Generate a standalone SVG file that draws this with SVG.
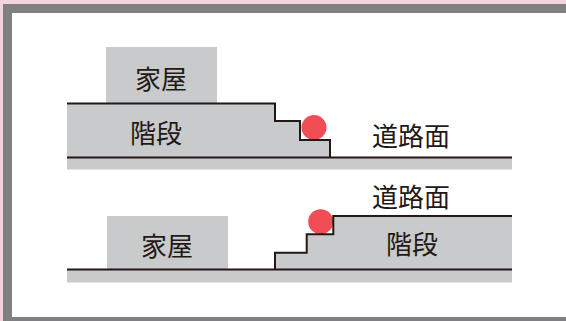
<svg xmlns="http://www.w3.org/2000/svg" width="566" height="321" viewBox="0 0 566 321">
<style>
.fill{fill:#c9cacb}
.ln{fill:none;stroke:#231815;stroke-width:2}
.ball{fill:#f04d55}
.t{font-family:"Noto Sans CJK JP","Noto Sans",sans-serif;font-size:26px;fill:#231815;text-anchor:middle;dominant-baseline:central}
</style>
<rect x="0" y="0" width="566" height="321" fill="#f2d4dd"/>
<rect x="7.5" y="8.5" width="570" height="313" fill="#ffffff" stroke="#808083" stroke-width="9"/>
<g id="top-scene">
  <g id="top-house">
    <rect class="fill" x="106" y="47" width="111" height="56.5"/>
    <text class="t" x="161" y="77">家屋</text>
  </g>
  <g id="top-stairs">
    <polygon class="fill" points="67,103.5 275,103.5 275,121 300,121 300,140 330,140 330,157.5 67,157.5"/>
    <text class="t" x="156" y="131">階段</text>
  </g>
  <g id="top-road">
    <rect class="fill" x="67" y="157.5" width="445" height="12"/>
    <text class="t" x="411" y="134">道路面</text>
  </g>
  <g id="top-ball"><circle class="ball" cx="314" cy="127.5" r="12.5"/></g>
  <g id="top-lines">
    <path class="ln" d="M67,103.5 H275 V121 H300 V140 H330 V157.5"/>
    <path class="ln" d="M67,157.5 H512"/>
  </g>
</g>
<g id="bottom-scene">
  <g id="bottom-house">
    <rect class="fill" x="107" y="216" width="121" height="53.5"/>
    <text class="t" x="167" y="244">家屋</text>
  </g>
  <g id="bottom-stairs">
    <polygon class="fill" points="275,269.5 275,252.7 306.7,252.7 306.7,234.3 333.3,234.3 333.3,216 512,216 512,269.5"/>
    <text class="t" x="412" y="242.5">階段</text>
  </g>
  <g id="bottom-road">
    <rect class="fill" x="67" y="269.5" width="445" height="13"/>
    <text class="t" x="411" y="195">道路面</text>
  </g>
  <g id="bottom-ball"><circle class="ball" cx="320.7" cy="221.7" r="12.5"/></g>
  <g id="bottom-lines">
    <path class="ln" d="M275,269.5 V252.7 H306.7 V234.3 H333.3 V216 H512"/>
    <path class="ln" d="M67,269.5 H512"/>
  </g>
</g>
</svg>
